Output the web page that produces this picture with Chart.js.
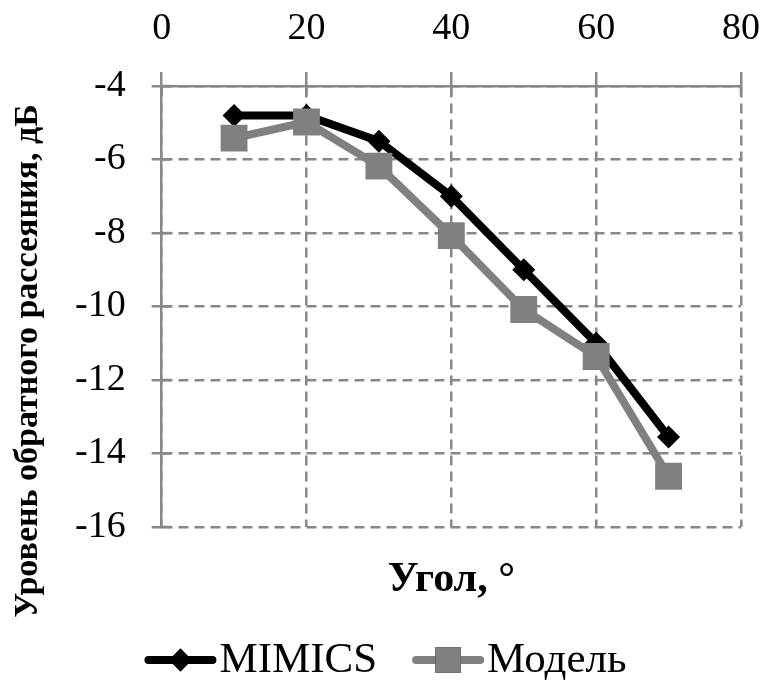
<!DOCTYPE html>
<html>
<head>
<meta charset="utf-8">
<script src="https://cdn.jsdelivr.net/npm/chart.js@4/dist/chart.umd.min.js"></script>
<style>
  html, body { margin: 0; padding: 0; background: #ffffff; }
  #wrap { width: 764px; height: 684px; }
</style>
</head>
<body>
<div id="wrap"><canvas id="c" width="764" height="684"></canvas></div>
<script>
// ---- data ----
const angles = [10, 20, 30, 40, 50, 60, 70];
const mimicsValues = [-4.8, -4.8, -5.5, -7.0, -9.0, -11.0, -13.55];
const modelValues = [-5.42, -4.98, -6.18, -8.07, -10.08, -11.36, -14.62];
const seriesNames = ['MIMICS', 'Модель'];
const xTicks = [0, 20, 40, 60, 80];
const yTicks = [-4, -6, -8, -10, -12, -14, -16];
const xTitle = 'Угол, °';
const yTitle = 'Уровень обратного рассеяния, дБ';

const FONT = '"Liberation Serif", "Times New Roman", serif';
const GRID = '#888888';

function toPoints(xs, ys) { return xs.map((x, i) => ({ x: x, y: ys[i] })); }

const innerTicks = {
  id: 'innerTicks',
  beforeDatasetsDraw(chart) {
    const { ctx, chartArea, scales } = chart;
    ctx.save();
    ctx.strokeStyle = GRID;
    ctx.lineWidth = 2.5;
    yTicks.forEach(v => {
      const y = scales.y.getPixelForValue(v);
      ctx.beginPath(); ctx.moveTo(chartArea.left, y); ctx.lineTo(chartArea.left + 9, y); ctx.stroke();
    });
    xTicks.forEach(v => {
      const x = scales.x.getPixelForValue(v);
      ctx.beginPath(); ctx.moveTo(x, chartArea.top); ctx.lineTo(x, chartArea.top + 9); ctx.stroke();
    });
    ctx.restore();
  }
};

const extras = {
  id: 'extras',
  afterDraw(chart) {
    const { ctx } = chart;
    // y axis title
    ctx.save();
    ctx.translate(28, 361);
    ctx.rotate(-Math.PI / 2);
    ctx.font = 'bold 34px ' + FONT;
    ctx.fillStyle = '#000';
    ctx.textAlign = 'center';
    ctx.textBaseline = 'middle';
    ctx.fillText(yTitle, 0, 0);
    ctx.restore();

    // legend (line + marker + text)
    const ds = chart.data.datasets;
    ctx.save();
    ctx.font = '43px ' + FONT;
    const lineLen = 70, gapText = 4, gapItem = 36;
    const widths = ds.map(d => ctx.measureText(d.label).width);
    let total = 0;
    widths.forEach((w, i) => { total += lineLen + gapText + w + (i < widths.length - 1 ? gapItem : 0); });
    let x = 386 - total / 2;
    const y = 660;
    ds.forEach((d, i) => {
      ctx.strokeStyle = d.borderColor;
      ctx.lineWidth = d.borderWidth;
      ctx.lineCap = 'round';
      ctx.beginPath(); ctx.moveTo(x + 3, y); ctx.lineTo(x + lineLen - 3, y); ctx.stroke();
      Chart.helpers.drawPoint(ctx, {
        pointStyle: d.pointStyle, radius: d.pointStyle === 'rect' ? 18 : 11.5, rotation: 0, borderWidth: 0
      }, x + lineLen / 2, y);
      ctx.fillStyle = d.pointBackgroundColor;
      ctx.fill();
      ctx.fillStyle = '#000';
      ctx.textAlign = 'left';
      ctx.textBaseline = 'middle';
      ctx.fillText(d.label, x + lineLen + gapText, y + 1);
      x += lineLen + gapText + widths[i] + gapItem;
    });
    ctx.restore();
  }
};

new Chart(document.getElementById('c'), {
  type: 'line',
  data: {
    datasets: [
      {
        label: seriesNames[0],
        data: toPoints(angles, mimicsValues),
        borderColor: '#000000',
        backgroundColor: '#000000',
        pointBackgroundColor: '#000000',
        pointBorderColor: '#000000',
        borderWidth: 8,
        pointStyle: 'rectRot',
        pointRadius: 11.5,
        pointBorderWidth: 0,
        pointHoverRadius: 11.5,
        tension: 0,
        order: 2
      },
      {
        label: seriesNames[1],
        data: toPoints(angles, modelValues),
        borderColor: '#808080',
        backgroundColor: '#808080',
        pointBackgroundColor: '#808080',
        pointBorderColor: '#808080',
        borderWidth: 8,
        pointStyle: 'rect',
        pointRadius: 19,
        pointBorderWidth: 0,
        pointHoverRadius: 19,
        tension: 0,
        order: 1
      }
    ]
  },
  options: {
    responsive: false,
    animation: false,
    events: [],
    layout: { padding: { left: 49, right: 23, top: -13.6, bottom: 78.8 } },
    scales: {
      x: {
        type: 'linear',
        position: 'top',
        min: 0, max: 80,
        afterBuildTicks: (s) => { s.ticks = xTicks.map(v => ({ value: v })); },
        afterFit: (s) => { s.paddingLeft = 0; s.paddingRight = 0; },
        ticks: { font: { family: FONT, size: 38 }, color: '#000', padding: 20, maxRotation: 0 },
        grid: { color: GRID, lineWidth: 2.5, tickLength: 14, tickColor: GRID, tickWidth: 2.5, tickBorderDash: [] },
        border: { display: true, color: GRID, width: 2.5, dash: [10, 6] }
      },
      y: {
        type: 'linear',
        min: -16, max: -4,
        afterBuildTicks: (s) => { s.ticks = yTicks.map(v => ({ value: v })); },
        ticks: { font: { family: FONT, size: 38 }, color: '#000', padding: 26 },
        grid: { color: GRID, lineWidth: 2.5, tickLength: 10, tickColor: GRID, tickWidth: 2.5, tickBorderDash: [] },
        border: { display: true, color: GRID, width: 2.5, dash: [10, 6] }
      }
    },
    plugins: {
      legend: { display: false },
      tooltip: { enabled: false },
      title: {
        display: true,
        text: xTitle,
        position: 'bottom',
        fullSize: false,
        color: '#000',
        font: { family: FONT, size: 42, weight: 'bold' },
        padding: { top: 27.8, bottom: 0 }
      }
    }
  },
  plugins: [innerTicks, extras]
});
</script>
</body>
</html>
